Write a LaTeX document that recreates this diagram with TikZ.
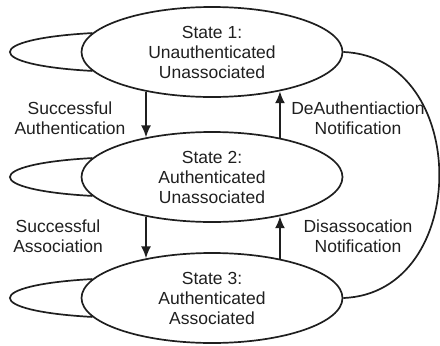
\documentclass[tikz,border=0pt]{standalone}
\usepackage{fontspec}
\setmainfont{Liberation Sans}
\usetikzlibrary{shapes.geometric,arrows.meta}
\definecolor{ink}{rgb}{0.12,0.12,0.12}
\begin{document}
\begin{tikzpicture}[x=1pt, y=-1pt,
    state/.style={ellipse, draw=ink, line width=1.7pt, minimum width=261pt,
      minimum height=90pt, inner sep=0pt, align=center, text=ink,
      font=\fontsize{17.5}{20}\selectfont},
    note/.style={align=center, text=ink, font=\fontsize{17.5}{20}\selectfont},
    arc/.style={draw=ink, line width=1.7pt},
    arr/.style={arc, -{Latex[length=12pt,width=10pt]}}]
    \useasboundingbox (0,0) rectangle (440,346);
    % the three states
    \node[state] (s1) at (212,52)  {State 1:\\Unauthenticated\\Unassociated};
    \node[state] (s2) at (212,177) {State 2:\\Authenticated\\Unassociated};
    \node[state] (s3) at (212,298) {State 3:\\Authenticated\\Associated};
    % self loops
    \draw[arc] (s1.171) .. controls +(-110,6) and +(-110,-6) .. (s1.189);
    \draw[arc] (s2.171) .. controls +(-110,6) and +(-110,-6) .. (s2.189);
    \draw[arc] (s3.171) .. controls +(-110,6) and +(-110,-6) .. (s3.189);
    % transitions
    \draw[arr] (s1.-149) -- (s2.149);
    \draw[arr] (s2.30) -- (s1.-30);
    \draw[arr] (s2.-149) -- (s3.149);
    \draw[arr] (s3.30) -- (s2.-30);
    \draw[arc] (s1.east) .. controls +(128,5) and +(128,-5) .. (s3.east);
    % labels
    \node[note] (lauth)     at (70,118)  {Successful\\Authentication};
    \node[note] (ldeauth)   at (358,118) {DeAuthentiaction\\Notification};
    \node[note] (lassoc)    at (58,236)  {Successful\\Association};
    \node[note] (ldisassoc) at (358,236) {Disassocation\\Notification};
\end{tikzpicture}
\end{document}
